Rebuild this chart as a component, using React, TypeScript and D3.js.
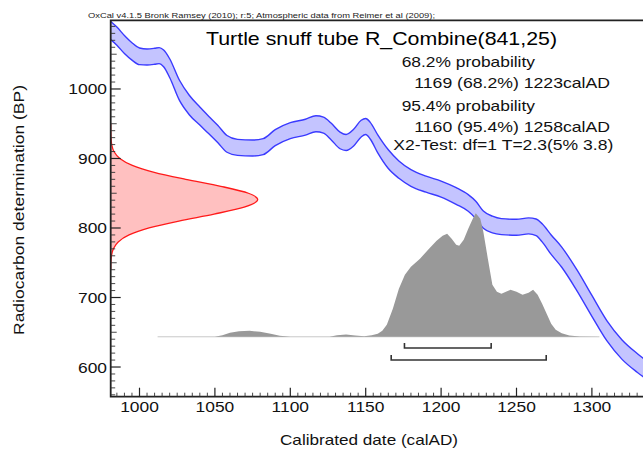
import React from 'react';
import * as d3 from 'd3';

// Calibration curve (IntCal) centre and 1-sigma error, BP
const calYears = [980.9, 985, 990, 995, 1000, 1005, 1010, 1013, 1016, 1020, 1026.5, 1033, 1040, 1046, 1052, 1058, 1065, 1075, 1082, 1090, 1100, 1110, 1117, 1122, 1127, 1133, 1137, 1142, 1147, 1150, 1153, 1158, 1165, 1172, 1180, 1190, 1200, 1210, 1218, 1223, 1228, 1234, 1240, 1250, 1258, 1263, 1267, 1273, 1280, 1290, 1300, 1310, 1320, 1330, 1340];
const calBP = [1084, 1076, 1064, 1054, 1047, 1046, 1047, 1048, 1044, 1030, 998, 977, 961, 948, 935, 921, 916, 915, 917, 930, 940, 945, 950, 948, 939, 926, 923, 930, 943, 946, 940, 921, 899, 884, 872, 863, 856, 846, 836, 826, 812, 805, 802, 801, 803, 801, 793, 776, 758, 725, 688, 652, 625, 606, 590];
const calErr = [13, 13, 13, 12.5, 12, 11.5, 11.5, 11.5, 12, 13.5, 14.5, 14, 13, 12.5, 12.5, 12, 11.5, 11.5, 11.5, 11.5, 11.5, 11.5, 11.5, 11.5, 12, 12, 11.5, 12, 12, 11.5, 12, 13, 13.5, 12.5, 12, 11.5, 11.5, 12, 12, 12.5, 12.5, 12, 11.5, 11.5, 11.5, 12, 13, 14, 14.5, 15, 15, 14.5, 14, 13.5, 13];

// Radiocarbon determination R_Combine(841,25) – relative density
const redBP = [740, 750, 760, 770, 780, 790, 800, 810, 820, 830, 841, 850, 860, 870, 880, 890, 900, 910, 920, 930, 940, 950];
const redDensity = [0, 0.001, 0.005, 0.018, 0.051, 0.125, 0.261, 0.464, 0.703, 0.908, 1.0, 0.937, 0.749, 0.51, 0.296, 0.147, 0.062, 0.022, 0.007, 0.002, 0.0005, 0];

// Calibrated (posterior) distribution, relative probability %
const postYears = [1012, 1050, 1055, 1060, 1066, 1073, 1080, 1087, 1093, 1100, 1126, 1131, 1137, 1143, 1149, 1154, 1158, 1161, 1164, 1168, 1172, 1176, 1180, 1186, 1192, 1197, 1201, 1204, 1207, 1210, 1212, 1215, 1218, 1221, 1223, 1226, 1228, 1231, 1234, 1237, 1240, 1243, 1246, 1250, 1254, 1258, 1261, 1264, 1267, 1270, 1273, 1276, 1280, 1285, 1292, 1305];
const postProb = [0, 0, 1.2, 3.2, 4.5, 4.9, 4, 2.4, 0.8, 0, 0, 1.2, 1.8, 1, 0.5, 1.2, 2.4, 4.9, 9.7, 22.7, 38.9, 50.2, 56.7, 63.2, 71.3, 77.7, 81.8, 83.4, 79.4, 74.5, 73.7, 78.5, 87.4, 95.5, 100, 95.5, 85, 63.2, 42.1, 36.4, 34.8, 36.4, 38.1, 36.4, 34, 35.6, 38.1, 34, 26.7, 18.6, 10.5, 5.7, 2.8, 1, 0.2, 0];

// Range brackets as drawn (calAD)
const range68 = [1175.7, 1233.2];
const range95 = [1166.9, 1269.7];

const xTicks = [1000, 1050, 1100, 1150, 1200, 1250, 1300];
const yTicks = [600, 700, 800, 900, 1000];

const headerText = 'OxCal v4.1.5 Bronk Ramsey (2010); r:5; Atmospheric data from Reimer et al (2009);';
const titleText = 'Turtle snuff tube R_Combine(841,25)';
const statLines = [
  '68.2% probability',
  '1169 (68.2%) 1223calAD',
  '95.4% probability',
  '1160 (95.4%) 1258calAD',
  'X2-Test: df=1 T=2.3(5% 3.8)',
];
const xLabel = 'Calibrated date (calAD)';
const yLabel = 'Radiocarbon determination (BP)';

const W = 643;
const H = 456;
const left = 110.7;
const top = 20.3;
const bottom = 396.7;
const FONT = "'Liberation Sans', Arial, Helvetica, sans-serif";
const STRETCH = 1.16;

export default function App() {
  const x = d3.scaleLinear().domain([980.9, 1340]).range([left, left + 359.1 * 1.508]);
  const y = d3.scaleLinear().domain([557.3, 1098.8]).range([bottom, top]);

  const cal = calYears.map((yr, i) => ({ yr, bp: calBP[i], e: calErr[i] }));
  const bandArea = d3
    .area<any>()
    .x((d) => x(d.yr))
    .y0((d) => y(d.bp - d.e))
    .y1((d) => y(d.bp + d.e))
    .curve(d3.curveMonotoneX);
  const upperLine = d3.line<any>().x((d) => x(d.yr)).y((d) => y(d.bp + d.e)).curve(d3.curveMonotoneX);
  const lowerLine = d3.line<any>().x((d) => x(d.yr)).y((d) => y(d.bp - d.e)).curve(d3.curveMonotoneX);

  const redW = 147;
  const red = redBP.map((bp, i) => ({ bp, d: redDensity[i] }));
  const redArea = d3
    .area<any>()
    .y((d) => y(d.bp))
    .x0(left)
    .x1((d) => left + d.d * redW)
    .curve(d3.curveMonotoneY);
  const redLine = d3.line<any>().y((d) => y(d.bp)).x((d) => left + d.d * redW).curve(d3.curveMonotoneY);

  const baseY = y(643.5);
  const postH = 123.5;
  const post = postYears.map((yr, i) => ({ yr, p: postProb[i] }));
  const postArea = d3
    .area<any>()
    .x((d) => x(d.yr))
    .y0(baseY)
    .y1((d) => baseY - (d.p / 100) * postH)
    .curve(d3.curveLinear);

  const b68 = y(627.3);
  const b95 = y(610);

  const xMinor = d3.range(985, 1341, 5).filter((v) => v % 50 !== 0);
  const yMinor = d3.range(560, 1100, 10).filter((v) => v % 100 !== 0);

  const bracket = (r: number[], yy: number, key: string) => (
    <path
      key={key}
      d={`M${x(r[0])},${yy - 5}V${yy}H${x(r[1])}V${yy - 5}`}
      fill="none"
      stroke="#333"
      strokeWidth={1.6}
    />
  );

  return (
    <svg
      width={W}
      height={H}
      style={{ position: 'absolute', left: 0, top: 0, display: 'block', background: '#fff' }}
      fontFamily={FONT}
    >
      <defs>
        <clipPath id="plot">
          <rect x={left} y={top} width={W - left} height={bottom - top} />
        </clipPath>
      </defs>
      <rect width={W} height={H} fill="#fff" />

      <g clipPath="url(#plot)">
        <path d={bandArea(cal) || ''} fill="#c4c4ff" />
        <path d={upperLine(cal) || ''} fill="none" stroke="#3a3aff" strokeWidth={1.4} />
        <path d={lowerLine(cal) || ''} fill="none" stroke="#3a3aff" strokeWidth={1.4} />

        <line x1={x(postYears[0])} x2={x(postYears[postYears.length - 1])} y1={baseY} y2={baseY} stroke="#c8c8c8" strokeWidth={1} />
        <path d={postArea(post) || ''} fill="#999" />

        <path d={redArea(red) || ''} fill="#ffc0c0" />
        <path d={redLine(red) || ''} fill="none" stroke="#ff1a1a" strokeWidth={1.3} />

        {bracket(range68, b68, 'b68')}
        {bracket(range95, b95, 'b95')}
      </g>

      {/* frame */}
      <path d={`M${W},${top}H${left}V${bottom}H${W}`} fill="none" stroke="#222" strokeWidth={1.8} />

      {/* x ticks */}
      {xMinor.map((v) => (
        <line key={'xm' + v} x1={x(v)} x2={x(v)} y1={bottom} y2={bottom - 4} stroke="#333" strokeWidth={0.9} />
      ))}
      {xTicks.map((v) => (
        <line key={'xM' + v} x1={x(v)} x2={x(v)} y1={bottom} y2={bottom - 9} stroke="#222" strokeWidth={1.2} />
      ))}
      {xTicks.map((v) => (
        <text key={'xl' + v} transform={`translate(${x(v)},412) scale(${STRETCH},1)`} textAnchor="middle" fontSize={15} fill="#111">
          {v}
        </text>
      ))}

      {/* y ticks */}
      {yMinor.map((v) => (
        <line key={'ym' + v} x1={left} x2={left + (v % 50 === 0 ? 6 : 4.5)} y1={y(v)} y2={y(v)} stroke="#333" strokeWidth={0.9} />
      ))}
      {yTicks.map((v) => (
        <line key={'yM' + v} x1={left} x2={left + 10} y1={y(v)} y2={y(v)} stroke="#222" strokeWidth={1.2} />
      ))}
      {yTicks.map((v) => (
        <text key={'yl' + v} transform={`translate(107,${y(v) + 5.5}) scale(${STRETCH},1)`} textAnchor="end" fontSize={15} fill="#111">
          {v}
        </text>
      ))}

      {/* labels */}
      <text x={369} y={445} textAnchor="middle" fontSize={15} textLength={178} lengthAdjust="spacingAndGlyphs" fill="#111">
        {xLabel}
      </text>
      <text transform={`translate(24,210) rotate(-90)`} textAnchor="middle" fontSize={15} textLength={250} lengthAdjust="spacingAndGlyphs" fill="#111">
        {yLabel}
      </text>

      <text x={88} y={17.5} fontSize={7.5} textLength={347} lengthAdjust="spacingAndGlyphs" fill="#222">
        {headerText}
      </text>
      <text x={206} y={45} fontSize={18.5} textLength={351} lengthAdjust="spacingAndGlyphs" fill="#000">
        {titleText}
      </text>
      <text x={401.7} y={67.3} fontSize={15} textLength={133.3} lengthAdjust="spacingAndGlyphs" fill="#111">{statLines[0]}</text>
      <text x={414.3} y={88.3} fontSize={15} textLength={195.7} lengthAdjust="spacingAndGlyphs" fill="#111">{statLines[1]}</text>
      <text x={401.7} y={111} fontSize={15} textLength={133.3} lengthAdjust="spacingAndGlyphs" fill="#111">{statLines[2]}</text>
      <text x={414.3} y={132.3} fontSize={15} textLength={195.7} lengthAdjust="spacingAndGlyphs" fill="#111">{statLines[3]}</text>
      <text x={393.3} y={149.5} fontSize={15} textLength={220} lengthAdjust="spacingAndGlyphs" fill="#111">{statLines[4]}</text>
    </svg>
  );
}
